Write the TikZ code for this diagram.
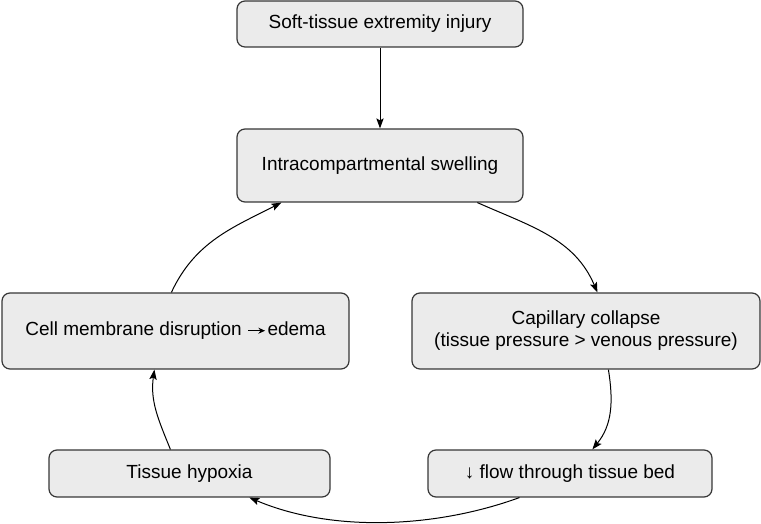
\documentclass[tikz,border=0pt]{standalone}
\usepackage{fontspec}
\setmainfont{Liberation Sans}
\usetikzlibrary{arrows.meta}
\definecolor{boxfill}{RGB}{235,235,235}
\definecolor{boxline}{RGB}{55,55,55}
\tikzset{
  flowbox/.style={draw=boxline, line width=0.9pt, fill=boxfill, rounded corners=6pt,
    align=center, inner sep=0pt, font=\fontsize{14.25pt}{16.5pt}\selectfont},
  conn/.style={line width=0.75pt, -{Stealth[length=7.5pt,width=5.5pt,inset=1.5pt]}}
}
\newcommand{\inlinearrow}{\tikz[baseline=0pt]{\draw[line width=0.75pt,-{Stealth[length=5pt,width=4.5pt]}] (0pt,3.9pt) -- (12.5pt,3.9pt);}}
\begin{document}
\begin{tikzpicture}[x=0.75pt,y=0.75pt]
\useasboundingbox (0,0) rectangle (761,524);
\node[flowbox, minimum width=214.5pt, minimum height=34.5pt] (b1) at (380,500) {Soft-tissue extremity injury};
\node[flowbox, minimum width=214.5pt, minimum height=54.75pt] (b2) at (380,358.5) {Intracompartmental swelling};
\node[flowbox, minimum width=260.25pt, minimum height=57pt] (b3) at (175.5,193) {Cell membrane disruption\hspace{4.5pt}\inlinearrow\hspace{1.5pt}edema};
\node[flowbox, minimum width=261pt, minimum height=57pt] (b4) at (586,193) {Capillary collapse\\(tissue pressure > venous pressure)};
\node[flowbox, minimum width=210.75pt, minimum height=35.25pt] (b5) at (189.5,50.5) {Tissue hypoxia};
\node[flowbox, minimum width=213pt, minimum height=35.25pt] (b6) at (570,50.5) {↓ flow through tissue bed};

\draw[conn] (b1.south) -- (b2.north);
\draw[conn] ([xshift=180.75pt]b2.south west) to[out=-24,in=113] ([xshift=139.5pt]b4.north west);
\draw[conn] ([xshift=147.75pt]b4.south west) to[out=-81,in=51] ([xshift=123.75pt]b6.north west);
\draw[conn] ([xshift=69pt]b6.south west) to[out=200,in=-23,looseness=0.85] ([xshift=150.75pt]b5.south west);
\draw[conn] ([xshift=91.5pt]b5.north west) to[out=112,in=-98] ([xshift=114.75pt]b3.south west);
\draw[conn] ([xshift=127.5pt]b3.north west) to[out=65,in=207] ([xshift=33.75pt]b2.south west);
\end{tikzpicture}
\end{document}
